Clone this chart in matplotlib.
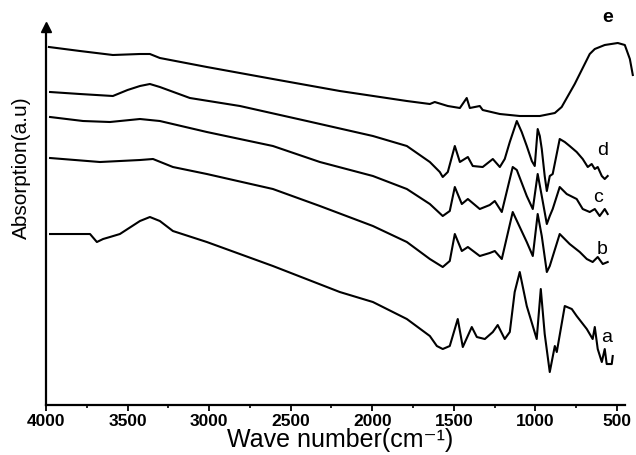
import matplotlib
matplotlib.use('Agg')
import matplotlib.pyplot as plt
from matplotlib.ticker import MultipleLocator

plt.rcParams['font.family'] = ['Liberation Sans', 'DejaVu Sans']

# wave number (cm-1) / absorption (a.u.)
a_wn = [3975, 3730, 3688, 3650, 3608, 3547, 3424, 3363, 3302, 3222, 3014, 2609, 2199,
        1996, 1788, 1647, 1604, 1568, 1525, 1476, 1445, 1390, 1359, 1310, 1261, 1231,
        1188, 1157, 1127, 1096, 1053, 992, 967, 943, 912, 881, 869, 820, 777, 747, 685,
        649, 636, 618, 593, 575, 563, 532, 526]
a_ab = [171, 171, 163, 166, 168, 171, 184, 188, 184, 174, 163, 139, 113,
        103, 86, 69, 59, 56, 59, 86, 58, 78, 68, 66, 73, 80,
        66, 73, 113, 133, 99, 66, 116, 71, 33, 59, 53, 99, 96, 89, 76,
        66, 78, 56, 43, 56, 41, 41, 49]

b_wn = [3975, 3669, 3424, 3344, 3222, 3014, 2609, 2321, 1996, 1788, 1647, 1568, 1525,
        1494, 1451, 1414, 1341, 1280, 1249, 1206, 1139, 1053, 1016, 986, 961, 930, 912,
        851, 790, 728, 685, 649, 618, 587, 557]
b_ab = [247, 243, 245, 246, 238, 231, 216, 199, 179, 163, 146, 138, 144,
        171, 154, 158, 149, 152, 154, 146, 193, 163, 149, 191, 169, 133, 139,
        171, 161, 153, 146, 143, 148, 141, 143]

c_wn = [3975, 3773, 3608, 3424, 3302, 3014, 2609, 2321, 1996, 1788, 1647, 1568, 1525,
        1494, 1451, 1414, 1341, 1280, 1249, 1206, 1139, 1114, 1053, 1016, 986, 961, 930,
        912, 894, 851, 808, 747, 710, 667, 636, 606, 575, 557]
c_ab = [288, 284, 283, 286, 284, 273, 259, 243, 229, 216, 201, 189, 194,
        218, 201, 206, 196, 200, 204, 193, 238, 235, 209, 196, 231, 209, 181,
        189, 196, 218, 211, 206, 196, 193, 196, 189, 196, 191]

d_wn = [3975, 3792, 3590, 3500, 3424, 3363, 3302, 3118, 2811, 2401, 1996, 1788, 1647,
        1586, 1568, 1537, 1494, 1463, 1414, 1384, 1323, 1261, 1218, 1188, 1157, 1114,
        1084, 1053, 1022, 1004, 986, 973, 961, 943, 930, 912, 894, 851, 820, 790, 747,
        710, 679, 655, 636, 618, 593, 575, 557]
d_ab = [313, 311, 309, 315, 319, 321, 318, 307, 299, 284, 269, 259, 243,
        233, 228, 233, 259, 243, 248, 239, 238, 246, 238, 246, 263, 284,
        273, 259, 244, 239, 276, 269, 256, 229, 214, 229, 231, 266, 263, 259, 253,
        246, 238, 241, 236, 238, 229, 226, 229]

e_wn = [3982, 3792, 3590, 3424, 3363, 3302, 3014, 2609, 2199, 1788, 1647, 1617, 1537,
        1463, 1421, 1402, 1341, 1323, 1218, 1096, 973, 881, 839, 759, 667, 636, 575,
        495, 452, 421, 403]
e_ab = [358, 354, 350, 351, 351, 347, 338, 326, 314, 304, 301, 303, 299,
        297, 307, 297, 299, 295, 291, 289, 289, 292, 298, 321, 351, 356, 360,
        362, 360, 346, 330]

curves = [(a_wn, a_ab), (b_wn, b_ab), (c_wn, c_ab), (d_wn, d_ab), (e_wn, e_ab)]
curve_names = ['a', 'b', 'c', 'd', 'e']
name_wn = [563, 593, 618, 587, 557]
name_ab = [69, 157, 209, 256, 388]

xtick_vals = [4000, 3500, 3000, 2500, 2000, 1500, 1000, 500]

fig = plt.figure(figsize=(6.36, 4.56), dpi=100)
ax = fig.add_axes([0.0723, 0.1096, 0.926, 0.829])

for wn, ab in curves:
    ax.plot(wn, ab, color='black', lw=1.5)

for name, x, y in zip(curve_names, name_wn, name_ab):
    ax.text(x, y, name, fontsize=14, fontweight='bold' if name == 'e' else 'normal',
            ha='center', va='center')

ax.set_xlim(4000, 390)
ax.set_ylim(0, 378)

ax.spines['top'].set_visible(False)
ax.spines['right'].set_visible(False)
ax.spines['left'].set_linewidth(1.6)
ax.spines['bottom'].set_linewidth(1.6)
ax.spines['bottom'].set_bounds(4000, 450)
# arrow head on the y axis
ax.plot([0], [1], marker='^', color='black', markersize=7,
        transform=ax.transAxes, clip_on=False)

ax.set_xticks(xtick_vals)
ax.set_xticklabels([str(v) for v in xtick_vals], fontweight='bold')
ax.xaxis.set_minor_locator(MultipleLocator(250))
ax.set_yticks([])
ax.tick_params(axis='x', which='major', direction='out', length=4, width=1.3,
               labelsize=12.5, pad=2)
ax.tick_params(axis='x', which='minor', direction='out', length=2.5, width=1.2)

ax.set_xlabel('Wave number(cm\u207b\u00b9)', fontsize=18)
ax.xaxis.set_label_coords(0.5, -0.058)
ax.set_ylabel('Absorption(a.u)', fontsize=15)
ax.yaxis.set_label_coords(-0.026, 0.63)

fig.savefig('out.png', dpi=100)
